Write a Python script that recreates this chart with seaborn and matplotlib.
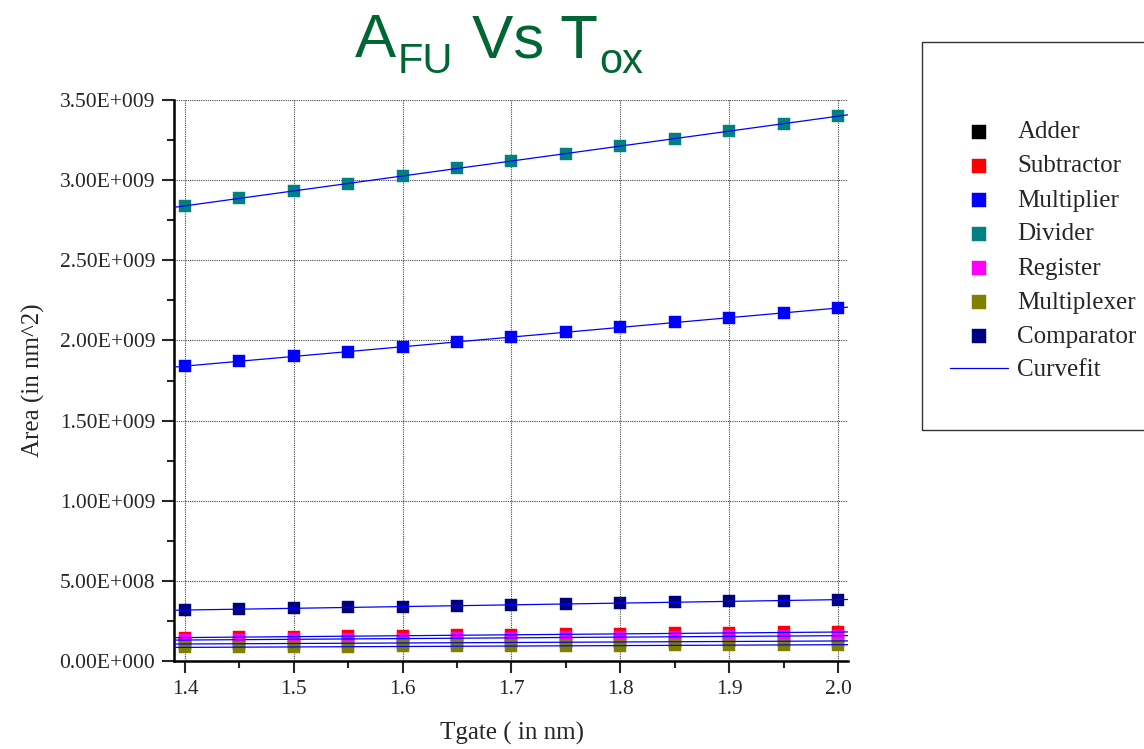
import numpy as np
import pandas as pd
import matplotlib
matplotlib.use("Agg")
import matplotlib.pyplot as plt
import seaborn as sns
from matplotlib.ticker import FuncFormatter, MultipleLocator
from matplotlib.patches import Rectangle

# ---------------- data ----------------
tgate = [1.40, 1.45, 1.50, 1.55, 1.60, 1.65, 1.70, 1.75, 1.80, 1.85, 1.90, 1.95, 2.00]

adder       = [0.106, 0.108, 0.109, 0.111, 0.112, 0.114, 0.116, 0.117, 0.119, 0.120, 0.122, 0.123, 0.125]
subtractor  = [0.146, 0.149, 0.152, 0.155, 0.158, 0.161, 0.163, 0.166, 0.169, 0.172, 0.175, 0.178, 0.181]
multiplier  = [1.840, 1.870, 1.900, 1.930, 1.961, 1.991, 2.021, 2.051, 2.081, 2.112, 2.142, 2.172, 2.202]
divider     = [2.840, 2.886, 2.933, 2.979, 3.026, 3.073, 3.119, 3.166, 3.213, 3.259, 3.306, 3.352, 3.399]
register    = [0.131, 0.133, 0.135, 0.138, 0.140, 0.142, 0.144, 0.147, 0.149, 0.151, 0.153, 0.156, 0.158]
multiplexer = [0.085, 0.086, 0.088, 0.089, 0.091, 0.092, 0.093, 0.095, 0.096, 0.097, 0.099, 0.100, 0.102]
comparator  = [0.318, 0.323, 0.329, 0.334, 0.340, 0.345, 0.350, 0.356, 0.361, 0.367, 0.372, 0.377, 0.383]
scale = 1e9  # values above are in units of 1e9 nm^2

series_names = ["Adder", "Subtractor", "Multiplier", "Divider", "Register", "Multiplexer", "Comparator"]
series_values = [adder, subtractor, multiplier, divider, register, multiplexer, comparator]
series_colors = ["#000000", "#FF0000", "#0000FF", "#008080", "#FF00FF", "#808000", "#000080"]
fit_label = "Curvefit"

x_ticks = [1.4, 1.5, 1.6, 1.7, 1.8, 1.9, 2.0]
y_ticks = [0.0, 0.5e9, 1.0e9, 1.5e9, 2.0e9, 2.5e9, 3.0e9, 3.5e9]

# title pieces: (text, is_subscript)
title_parts = [("A", False), ("FU", True), (" Vs T", False), ("ox", True)]
xlabel_text = "Tgate ( in nm)"
ylabel_text = "Area (in nm^2)"

# ---------------- style ----------------
sns.set_style("white")
plt.rcParams["font.family"] = ["Liberation Serif", "DejaVu Serif"]

fig = plt.figure(figsize=(11.44, 7.49), dpi=100)
ax = fig.add_axes([174 / 1144, 1 - 661 / 749, (848 - 174) / 1144, (661 - 100) / 749])

rows = []
for name, vals in zip(series_names, series_values):
    for xv, yv in zip(tgate, vals):
        rows.append({"Tgate": xv, "Area": yv * scale, "FU": name})
df = pd.DataFrame(rows)

xlim = (1.3899, 2.0092)

for name, color in zip(series_names, series_colors):
    sub = df[df["FU"] == name]
    sns.scatterplot(data=sub, x="Tgate", y="Area", ax=ax, marker="s", s=82,
                    color=color, edgecolor=color, linewidth=0.3, label=name, zorder=3)

xs = np.linspace(xlim[0], xlim[1], 50)
for i, name in enumerate(series_names):
    sub = df[df["FU"] == name]
    coef = np.polyfit(sub["Tgate"], sub["Area"], 1)
    ax.plot(xs, np.polyval(coef, xs), color="#0000FF", lw=0.9, zorder=4,
            label=fit_label if i == 0 else None)

ax.set_xlim(*xlim)
ax.set_ylim(0, 3.5e9)
ax.set_xticks(x_ticks)
ax.set_yticks(y_ticks)
ax.xaxis.set_minor_locator(MultipleLocator(0.05))
ax.yaxis.set_minor_locator(MultipleLocator(2.5e8))
ax.xaxis.set_major_formatter(FuncFormatter(lambda v, p: f"{v:.1f}"))


def sci_fmt(v, p):
    if v == 0:
        return "0.00E+000"
    e = int(np.floor(np.log10(abs(v))))
    m = v / 10 ** e
    return f"{m:.2f}E+{e:03d}"


ax.yaxis.set_major_formatter(FuncFormatter(sci_fmt))

ax.tick_params(axis="both", which="major", direction="out", length=8.5, width=1.5,
               labelsize=15.5, pad=5, bottom=True, left=True, top=False, right=False)
ax.tick_params(axis="both", which="minor", direction="out", length=5, width=1.5,
               bottom=True, left=True, top=False, right=False)

for s in ["top", "right"]:
    ax.spines[s].set_visible(False)
for s in ["left", "bottom"]:
    ax.spines[s].set_linewidth(1.8)
    ax.spines[s].set_color("black")

ax.grid(True, which="major", linestyle=(0, (1, 1)), color="#444444", linewidth=0.8, zorder=0)
ax.set_axisbelow(True)

ax.set_xlabel(xlabel_text, fontsize=18)
ax.set_ylabel(ylabel_text, fontsize=18)
ax.xaxis.set_label_coords((512 - 174) / 674, (661 - 733) / 561)
ax.xaxis.label.set_va("center")
ax.yaxis.set_label_coords((33 - 174) / 674, 0.5)
ax.yaxis.label.set_va("center")

# ---- title built from pieces (large subscripts as in the reference) ----
renderer = fig.canvas.get_renderer()
W, H = fig.bbox.width, fig.bbox.height
x_px = 355.0
base_main = 57.0
base_sub = 73.0
for txt, is_sub in title_parts:
    fs = 30 if is_sub else 44.5
    ypx = base_sub if is_sub else base_main
    t = fig.text(x_px / W, 1 - ypx / H, txt, fontsize=fs, color="#006633",
                 ha="left", va="baseline", family="Liberation Sans")
    bb = t.get_window_extent(renderer=renderer)
    x_px += bb.width + (2 if is_sub else 1.5)

handles, labels = ax.get_legend_handles_labels()
leg = ax.legend(handles, labels, loc="upper left",
                bbox_to_anchor=(950 / 1144, 1 - 121 / 749), bbox_transform=fig.transFigure,
                frameon=False, fontsize=18, borderpad=0, borderaxespad=0,
                handlelength=2.3, handletextpad=0.4, labelspacing=0.46, markerscale=1.15)

fig.patches.append(Rectangle((922 / 1144, 1 - 430 / 749), 0.3, 388 / 749,
                             transform=fig.transFigure, fill=False,
                             edgecolor="#333333", linewidth=1.0, clip_on=False))

fig.savefig("out.png", dpi=100)
